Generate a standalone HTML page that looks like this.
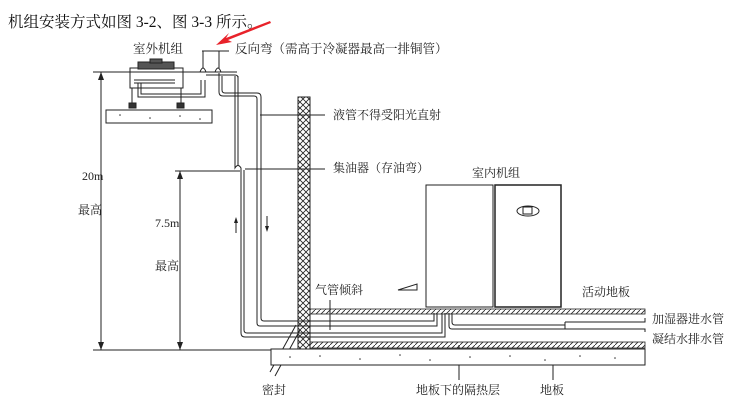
<!DOCTYPE html>
<html><head><meta charset="utf-8"><style>
body{margin:0;background:#fff;}
svg{display:block;font-family:"Liberation Serif","Noto Serif CJK SC","Noto Sans CJK SC",serif;}
</style></head><body>
<svg width="744" height="404" viewBox="0 0 744 404" xmlns="http://www.w3.org/2000/svg">
<defs>
<pattern id="hx" width="6" height="6" patternUnits="userSpaceOnUse">
<path d="M0,0 L6,6 M6,0 L0,6" stroke="#222" stroke-width="0.8"/>
</pattern>
<pattern id="hf" width="5" height="5" patternUnits="userSpaceOnUse">
<path d="M0,5 L5,0" stroke="#222" stroke-width="0.8"/>
</pattern>
</defs>
<text x="8" y="27" font-size="15.5" fill="#111">机组安装方式如图 3-2、图 3-3 所示。</text>
<!-- red arrow -->
<polygon points="270,21 226,38 229,33 216,45 232,42 228,40 271,23" fill="#e8222a"/>
<text x="133" y="53" font-size="12.5" fill="#222">室外机组</text>
<text x="235" y="53" font-size="12.5" fill="#222">反向弯（需高于冷凝器最高一排铜管）</text>
<g stroke="#222" fill="none" stroke-width="1">
<path d="M202,51 H229 M203,51 V68 M219,51 V68"/>
<!-- outdoor unit -->
<rect x="130" y="68" width="53" height="20"/>
<rect x="138" y="62" width="36" height="7" fill="#555"/>
<rect x="150" y="59" width="12" height="4" fill="#555"/>
<path d="M93,72 H237"/>
<path d="M134,80 H175 M134,83 H175"/>
<path d="M132,88 V104 M181,88 V104"/>
<rect x="129" y="103" width="7" height="5" fill="#333"/>
<rect x="177" y="103" width="7" height="5" fill="#333"/>
<rect x="106" y="110" width="106" height="13"/>
<!-- pipes -->
<path d="M200,72 q3,-8 6,0 M215,72 q3,-8 6,0"/>
<path d="M201,80 V94 H141 V83 M205,80 V97 H138 V83"/>
<path d="M219,73 V92 q0,4 4,4 H254 q3,0 3,3 V323 q0,3 3,3 H437 V313"/>
<path d="M222,76 V90 q0,3 3,3 H257 q4,0 4,4 V318 q0,3 3,3 H434 V313"/>
<path d="M235,76 V168 q3,-5 6,0 V333 q0,4 4,4 H445 V313"/>
<path d="M238,76 V165 M244,170 V330 q0,3 3,3 H442 V313"/>
<path d="M206,75 H235 q3,0 3,3"/>
<!-- dimensions -->
<path d="M101,72 V350 M93,350 H298 M180,171 V350 M175,171 H240"/>
<path d="M260,115 H325 M245,169 H325"/>
<path d="M330,300 V330"/>
<!-- indoor -->
<rect x="426" y="185" width="67" height="122"/>
<rect x="495" y="185" width="66" height="122" stroke-width="1.5"/>
<ellipse cx="528" cy="211" rx="11" ry="5"/>
<rect x="523" y="207" width="9" height="7"/>
<path d="M398,290 L417,284 V290 Z"/>
<!-- right pipes -->
<path d="M452,313 V322 q0,3 3,3 H565 M449,313 V326 q0,3 3,3 H565 V322"/>
<path d="M565,322 H645 V318 M565,329 H645 V332"/>
<!-- leaders -->
<path d="M459,345 V380 M553,350 V380 M275,376 L300,330 M270,372 L296,325"/>
</g>
<!-- wall -->
<rect x="298" y="97" width="12" height="253" fill="url(#hx)" stroke="#222"/>
<!-- floors -->
<rect x="310" y="309" width="335" height="5" fill="url(#hf)" stroke="#222" stroke-width="0.8"/>
<rect x="310" y="342" width="335" height="6" fill="url(#hf)" stroke="#222" stroke-width="0.8"/>
<rect x="271" y="349" width="374" height="16" fill="#fff" stroke="#222"/>
<g fill="#333">
<circle cx="290" cy="357" r="0.8"/><circle cx="320" cy="356" r="0.8"/><circle cx="360" cy="359" r="0.8"/><circle cx="400" cy="355" r="0.8"/><circle cx="430" cy="360" r="0.8"/><circle cx="470" cy="357" r="0.8"/><circle cx="510" cy="356" r="0.8"/><circle cx="545" cy="360" r="0.8"/><circle cx="580" cy="356" r="0.8"/><circle cx="615" cy="358" r="0.8"/>
<circle cx="120" cy="115" r="0.8"/><circle cx="150" cy="118" r="0.8"/><circle cx="180" cy="116" r="0.8"/><circle cx="200" cy="119" r="0.8"/>
</g>
<!-- arrows -->
<polygon points="101,72 98,80 104,80" fill="#222"/>
<polygon points="101,350 98,342 104,342" fill="#222"/>
<polygon points="180,171 177,179 183,179" fill="#222"/>
<polygon points="180,350 177,342 183,342" fill="#222"/>
<path d="M236,233 V220 M267,216 V229" stroke="#222"/>
<polygon points="236,217 234,223 238,223" fill="#222"/>
<polygon points="267,232 265,226 269,226" fill="#222"/>
<g font-size="12" fill="#222">
<text x="82" y="180">20m</text>
<text x="78" y="214">最高</text>
<text x="155" y="227">7.5m</text>
<text x="155" y="270">最高</text>
<text x="333" y="119">液管不得受阳光直射</text>
<text x="333" y="172">集油器（存油弯）</text>
<text x="472" y="177">室内机组</text>
<text x="315" y="294">气管倾斜</text>
<text x="582" y="296">活动地板</text>
<text x="652" y="323">加湿器进水管</text>
<text x="652" y="343">凝结水排水管</text>
<text x="262" y="394">密封</text>
<text x="416" y="394">地板下的隔热层</text>
<text x="540" y="394">地板</text>
</g>
</svg>
</body></html>
